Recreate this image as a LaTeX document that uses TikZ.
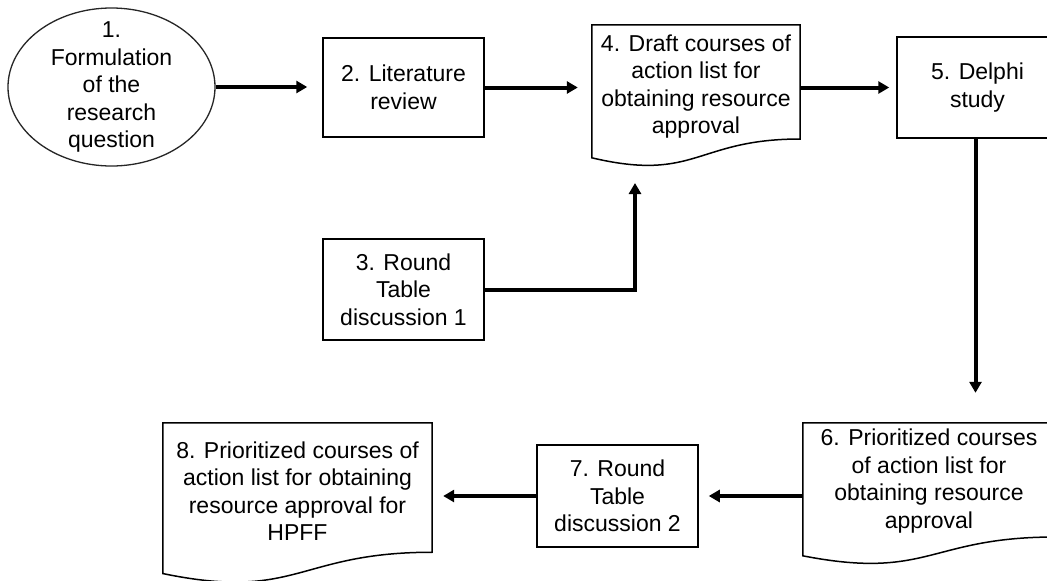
\documentclass[tikz,border=0pt]{standalone}
\usepackage{fontspec}
\setmainfont{Liberation Sans}
\usetikzlibrary{arrows.meta,calc,shapes.geometric}
\newcommand\docoutline[1]{%
  \draw[boxline] (#1.north west) -- (#1.north east)
    -- ($(#1.north east)!0.802!(#1.south east)$)
    .. controls ($(#1.north)!0.802!(#1.south)$) and ($(#1.north)!1.107!(#1.south)$)
    .. ($(#1.north west)!0.934!(#1.south west)$) -- cycle;}
\begin{document}
\begin{tikzpicture}[x=1pt,y=-1pt,
  txt/.style={font=\fontsize{23}{27.5}\selectfont, align=center, inner sep=0pt},
  boxline/.style={draw=black, line width=1.5pt, line join=miter},
  box/.style={rectangle, boxline, inner sep=0pt, txt},
  frame/.style={rectangle, inner sep=0pt, draw=none},
  oval/.style={ellipse, draw=black!85, line width=1.3pt, inner sep=0pt},
  flow/.style={line width=4pt, -{Triangle[length=11pt,width=12pt]}},
]
\useasboundingbox[fill=white] (0,0) rectangle (1047,581);

\node[oval, minimum width=207pt, minimum height=158pt,
  label={[txt]center:{1.\\Formulation\\of the\\research\\question}}] (n1) at (111.5,87) {};
\node[box, minimum width=161pt, minimum height=99pt] (n2) at (403.5,87.5) {2. Literature\\review};
\node[box, minimum width=161pt, minimum height=101pt] (n3) at (403.5,289.5) {3. Round\\Table\\discussion 1};
\node[frame, minimum width=208pt, minimum height=142pt] (f4) at (696,96) {};
\node[txt] (n4) at (696,86.5) {4. Draft courses of\\action list for\\obtaining resource\\approval};
\node[box, minimum width=161pt, minimum height=101pt] (n5) at (977.5,87.5) {5. Delphi\\study};
\node[frame, minimum width=252pt, minimum height=142pt] (f6) at (929,494) {};
\node[txt] (n6) at (929,481) {6. Prioritized courses\\of action list for\\obtaining resource\\approval};
\node[box, minimum width=161pt, minimum height=102pt] (n7) at (617.5,496) {7. Round\\Table\\discussion 2};
\node[frame, minimum width=269pt, minimum height=161pt] (f8) at (297.5,503.5) {};
\node[txt] (n8) at (297.5,491) {8. Prioritized courses of\\action list for obtaining\\resource approval for\\HPFF};

\docoutline{f4}
\docoutline{f6}
\docoutline{f8}

\coordinate (c4) at (635,183);

\draw[flow, shorten >=15pt] (n1.east) -- (n1.east -| n2.west);
\draw[flow, shorten >=14pt] (n2.east) -- (n2.east -| f4.west);
\draw[flow, shorten >=7pt] (f4.east |- n5.west) -- (n5.west);
\draw[flow, shorten >=30pt] ([xshift=-2pt]n5.south) -- ([xshift=-2pt]n5.south |- f6.north);
\draw[flow, shorten >=10pt] (f6.west |- n7.east) -- (n7.east);
\draw[flow, shorten >=11pt] (n7.west) -- (n7.west -| f8.east);
\draw[flow] (n3.east) -| (c4);
\end{tikzpicture}
\end{document}
